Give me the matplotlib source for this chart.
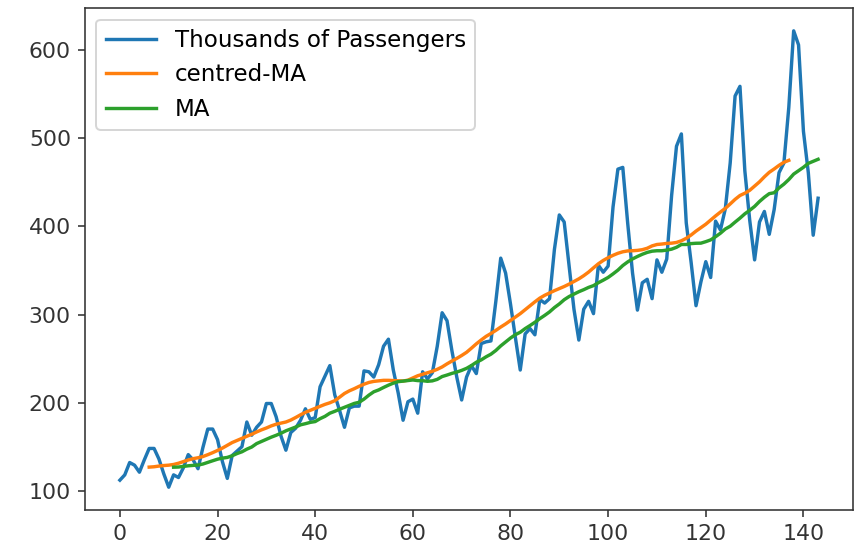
import numpy as np
import matplotlib
matplotlib.use("Agg")
import matplotlib.pyplot as plt

# monthly airline passengers (thousands), index 0..143
passengers = [
    112, 118, 132, 129, 121, 135, 148, 148, 136, 119, 104, 118,
    115, 126, 141, 135, 125, 149, 170, 170, 158, 133, 114, 140,
    145, 150, 178, 163, 172, 178, 199, 199, 184, 162, 146, 166,
    171, 180, 193, 181, 183, 218, 230, 242, 209, 191, 172, 194,
    196, 196, 236, 235, 229, 243, 264, 272, 237, 211, 180, 201,
    204, 188, 235, 227, 234, 264, 302, 293, 259, 229, 203, 229,
    242, 233, 267, 269, 270, 315, 364, 347, 312, 274, 237, 278,
    284, 277, 317, 313, 318, 374, 413, 405, 355, 306, 271, 306,
    315, 301, 356, 348, 355, 422, 465, 467, 404, 347, 305, 336,
    340, 318, 362, 348, 363, 435, 491, 505, 404, 359, 310, 337,
    360, 342, 406, 396, 420, 472, 548, 559, 463, 407, 362, 405,
    417, 391, 419, 461, 472, 535, 622, 606, 508, 461, 390, 432,
]

# centred moving average, indices 6..137
centred_start = 6
centred_ma = [
    126.8, 127.2, 128.0, 128.6, 129.0, 129.8, 131.2, 133.1, 134.9, 136.4,
    137.4, 138.8, 140.9, 143.2, 145.7, 148.4, 151.5, 154.7, 157.1, 159.5,
    161.8, 164.1, 166.7, 169.1, 171.2, 173.6, 175.5, 176.8, 178.0, 180.2,
    183.1, 186.2, 189.0, 191.3, 193.6, 195.8, 198.0, 199.8, 202.2, 206.2,
    210.4, 213.4, 215.8, 218.5, 220.9, 222.9, 224.1, 224.7, 225.3, 225.3,
    225.0, 224.6, 224.5, 225.5, 228.0, 230.5, 232.2, 233.9, 235.6, 237.8,
    240.5, 244.0, 247.2, 250.2, 253.5, 257.1, 261.8, 266.7, 271.1, 275.2,
    278.5, 282.0, 285.8, 289.3, 293.2, 297.2, 301.0, 305.5, 310.0, 314.4,
    318.6, 321.8, 324.5, 327.1, 329.5, 331.8, 334.5, 337.5, 340.5, 344.1,
    348.2, 353.0, 357.6, 361.4, 364.5, 367.2, 369.5, 371.2, 372.2, 372.4,
    372.8, 373.6, 375.2, 377.9, 379.5, 380.0, 380.7, 381.0, 381.8, 383.7,
    386.5, 390.3, 394.7, 398.6, 402.5, 407.2, 411.9, 416.3, 420.5, 425.5,
    430.7, 435.1, 437.7, 441.0, 445.8, 450.6, 456.3, 461.4, 465.2, 469.3,
    472.8, 475.0,
]

# trailing 12-month moving average, indices 11..143
ma_start = 11
trailing_ma = [
    126.7, 126.9, 127.6, 128.3, 128.8, 129.2, 130.3, 132.2, 134.0, 135.8,
    137.0, 137.8, 139.7, 142.2, 144.2, 147.2, 149.6, 153.5, 155.9, 158.3,
    160.8, 162.9, 165.3, 168.0, 170.2, 172.3, 174.8, 176.1, 177.6, 178.5,
    181.8, 184.4, 188.0, 190.1, 192.5, 194.7, 197.0, 199.1, 200.4, 204.0,
    208.5, 212.3, 214.4, 217.2, 219.8, 222.1, 223.8, 224.4, 225.0, 225.7,
    225.0, 224.9, 224.2, 224.7, 226.4, 229.6, 231.3, 233.2, 234.7, 236.6,
    238.9, 242.1, 245.8, 248.5, 252.0, 255.0, 259.2, 264.4, 268.9, 273.3,
    277.1, 279.9, 284.0, 287.5, 291.2, 295.3, 299.0, 303.0, 307.9, 312.0,
    316.8, 320.4, 323.1, 325.9, 328.2, 330.8, 332.8, 336.1, 339.0, 342.1,
    346.1, 350.4, 355.6, 359.7, 363.1, 365.9, 368.4, 370.5, 371.9, 372.4,
    372.4, 373.1, 374.2, 376.3, 379.5, 379.5, 380.5, 380.9, 381.0, 382.7,
    384.7, 388.3, 392.3, 397.1, 400.2, 404.9, 409.4, 414.3, 418.3, 422.7,
    428.3, 433.1, 437.2, 438.2, 443.7, 448.0, 453.2, 459.4, 463.3, 467.1,
    471.6, 473.9, 476.2,
]

x_all = np.arange(len(passengers))
x_centred = np.arange(centred_start, centred_start + len(centred_ma))
x_ma = np.arange(ma_start, ma_start + len(trailing_ma))

# roughly 2x scale of the default notebook figure
fig = plt.figure(figsize=(861 / 144, 549 / 144), dpi=144)
ax = fig.add_axes([0.0987, 0.071, 0.8920, 0.9144])

ax.plot(x_all, passengers, lw=1.7, label="Thousands of Passengers")
ax.plot(x_centred, centred_ma, lw=1.7, label="centred-MA")
ax.plot(x_ma, trailing_ma, lw=1.7, label="MA")

ax.set_xticks(range(0, 141, 20))
ax.set_yticks(range(100, 601, 100))
for s in ax.spines.values():
    s.set_color("#333333")
ax.tick_params(colors="#333333", labelsize=11)
ax.legend(loc="upper left", fontsize=11.5, handlelength=2.2)

fig.savefig("out.png", dpi=144)
